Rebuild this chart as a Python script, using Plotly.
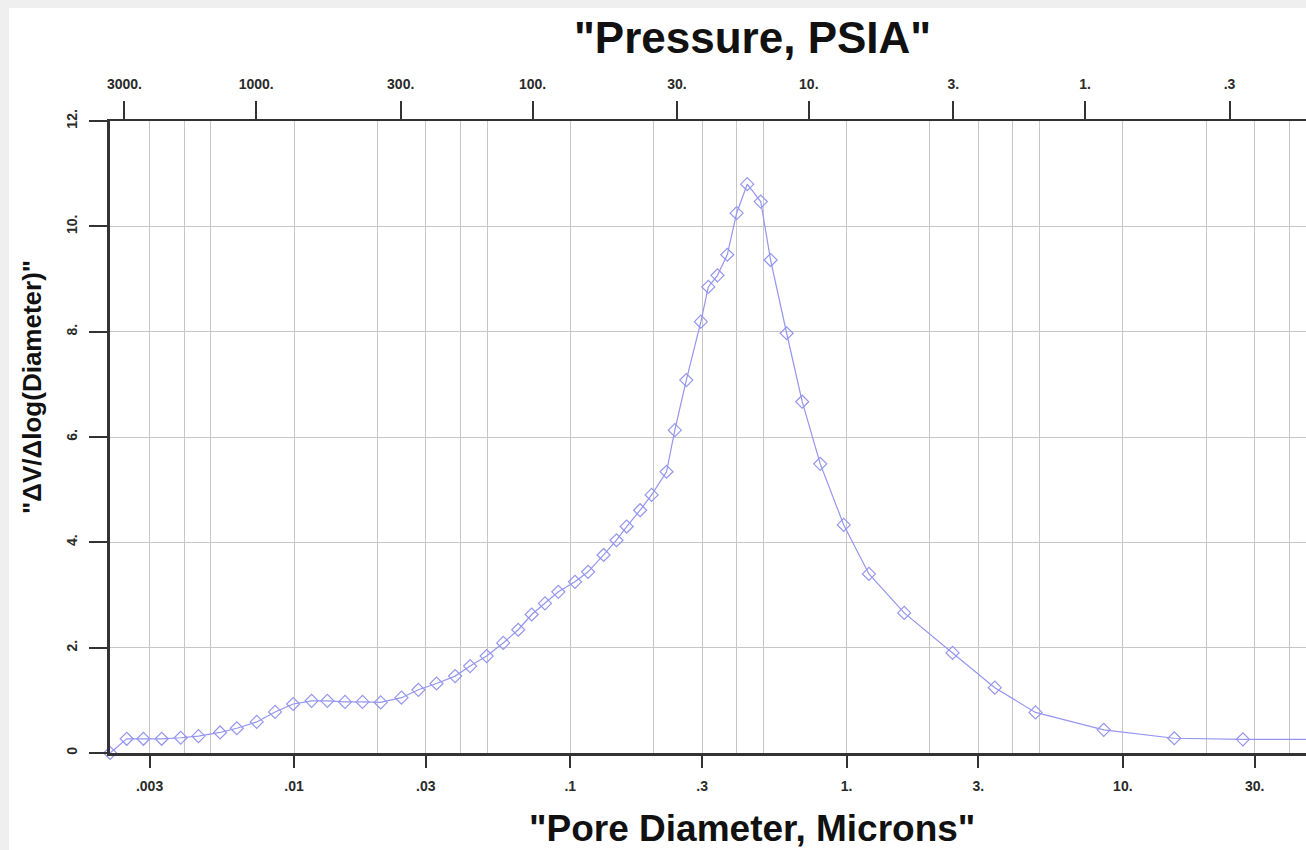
import plotly.graph_objects as go
import numpy as np

# Pore diameter (microns) and dV/dlog(D)
diameter = [0.00216, 0.00248, 0.00285, 0.00332, 0.00389, 0.00451, 0.00540, 0.00621,
            0.00733, 0.00854, 0.00993, 0.01158, 0.0132, 0.0153, 0.0177, 0.0206,
            0.0245, 0.0282, 0.0328, 0.0383, 0.0434, 0.0498, 0.0572, 0.0648,
            0.0725, 0.0810, 0.0905, 0.104, 0.116, 0.132, 0.147, 0.160,
            0.179, 0.197, 0.223, 0.239, 0.263, 0.297, 0.316, 0.341,
            0.370, 0.400, 0.437, 0.489, 0.531, 0.607, 0.691, 0.803,
            0.977, 1.205, 1.617, 2.42, 3.44, 4.83, 8.53, 15.35, 27.2, 50.0]
dv_dlogd = [0.0, 0.27, 0.27, 0.27, 0.29, 0.32, 0.39, 0.47,
            0.59, 0.78, 0.93, 0.99, 0.99, 0.97, 0.97, 0.96,
            1.05, 1.20, 1.32, 1.46, 1.65, 1.84, 2.09, 2.34,
            2.63, 2.84, 3.06, 3.25, 3.44, 3.76, 4.04, 4.30,
            4.61, 4.90, 5.34, 6.13, 7.08, 8.19, 8.85, 9.07,
            9.46, 10.25, 10.80, 10.47, 9.36, 7.97, 6.67, 5.49,
            4.33, 3.40, 2.66, 1.90, 1.24, 0.77, 0.44, 0.28, 0.26, 0.26]

# bottom axis ticks
diam_ticks = [0.003, 0.01, 0.03, 0.1, 0.3, 1, 3, 10, 30]
diam_labels = [".003", ".01", ".03", ".1", ".3", "1.", "3.", "10.", "30."]
grid_vals = [0.003, 0.004, 0.005, 0.01, 0.02, 0.03, 0.04, 0.05,
             0.1, 0.2, 0.3, 0.4, 0.5, 1, 2, 3, 4, 5, 10, 20, 30, 40]

# top axis (pressure) ticks
pressure_ticks = [3000, 1000, 300, 100, 30, 10, 3, 1, 0.3]
pressure_labels = ["3000.", "1000.", "300.", "100.", "30.", "10.", "3.", "1.", ".3"]
washburn_const = 7.3  # diameter(um) * pressure(psia) for this chart's scale

y_ticks = [0, 2, 4, 6, 8, 10, 12]
y_labels = ["0", "2.", "4.", "6.", "8.", "10.", "12."]

x_range = [-2.666, 1.663]
FONT = "Liberation Sans, Arial, sans-serif"
AX = "#333333"
GRID = "#c6c6c6"
SERIES = "#9595f0"
TICKFONT = dict(size=14, family=FONT, color="#2a2a2a", weight="bold")

fig = go.Figure()
fig.add_trace(go.Scatter(
    x=diameter, y=dv_dlogd, mode="lines+markers",
    line=dict(color=SERIES, width=1.2),
    marker=dict(symbol="diamond-open", size=10, color=SERIES, line=dict(width=1.2, color=SERIES)),
    cliponaxis=False, showlegend=False, hoverinfo="x+y"))
# invisible trace to anchor top axis
fig.add_trace(go.Scatter(x=[diameter[1]], y=[0], xaxis="x2", mode="markers",
                         marker=dict(opacity=0), showlegend=False, hoverinfo="skip"))

W, H = 1306, 850
L, R, T, B = 110, 0, 121, 97
pw, ph = W - L - R, H - T - B

def px_x(p):
    return (p - L) / pw

def px_y(p):
    return (H - B - p) / ph

fig.update_layout(
    width=W, height=H,
    margin=dict(l=L, r=R, t=T, b=B),
    paper_bgcolor="#efefef",
    plot_bgcolor="rgba(0,0,0,0)",
    font=dict(family=FONT, color="#111111"),
    xaxis=dict(
        type="log", range=x_range,
        tickmode="array", tickvals=diam_ticks, ticktext=diam_labels,
        ticks="outside", ticklen=12, tickwidth=2, tickcolor=AX,
        showline=True, linewidth=3, linecolor=AX,
        showgrid=True, gridcolor=GRID, gridwidth=1,
        minor=dict(tickmode="array", tickvals=grid_vals, showgrid=True,
                   gridcolor=GRID, gridwidth=1, ticks=""),
        tickfont=TICKFONT,
        ticklabelstandoff=6,
        zeroline=False,
    ),
    xaxis2=dict(
        type="log", range=x_range, overlaying="x", side="top",
        tickmode="array",
        tickvals=[washburn_const / p for p in pressure_ticks],
        ticktext=pressure_labels,
        ticks="outside", ticklen=18, tickwidth=2, tickcolor=AX,
        showline=True, linewidth=2, linecolor=AX,
        showgrid=False,
        tickfont=TICKFONT,
        ticklabelstandoff=6,
    ),
    yaxis=dict(
        range=[0, 12],
        tickmode="array", tickvals=y_ticks, ticktext=y_labels,
        ticks="outside", ticklen=18, tickwidth=2, tickcolor=AX,
        showline=True, linewidth=3, linecolor=AX,
        showgrid=True, gridcolor=GRID, gridwidth=1,
        tickangle=-90,
        tickfont=TICKFONT,
        ticklabelstandoff=6,
        zeroline=False,
    ),
    shapes=[dict(type="rect", xref="paper", yref="paper", layer="below",
                 x0=px_x(9), x1=px_x(W + 5), y0=px_y(H + 5), y1=px_y(8),
                 fillcolor="white", line=dict(width=0))],
    annotations=[
        dict(text='"Pressure, PSIA"', xref="paper", yref="paper",
             x=px_x(752), y=px_y(38), xanchor="center", yanchor="middle",
             showarrow=False, font=dict(size=44, family=FONT, color="#111111", weight="bold")),
        dict(text='"Pore Diameter, Microns"', xref="paper", yref="paper",
             x=px_x(752), y=px_y(828), xanchor="center", yanchor="middle",
             showarrow=False, font=dict(size=37, family=FONT, color="#111111", weight="bold")),
        dict(text='"ΔV/Δlog(Diameter)"', xref="paper", yref="paper",
             x=px_x(32), y=px_y(387), xanchor="center", yanchor="middle",
             textangle=-90, showarrow=False,
             font=dict(size=26, family=FONT, color="#111111", weight="bold")),
    ],
)

fig.write_html("out.html")
